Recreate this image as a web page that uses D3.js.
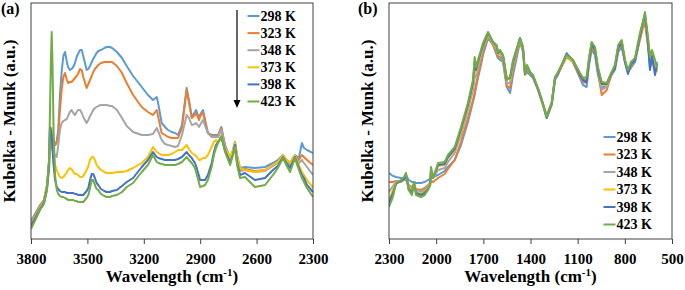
<!DOCTYPE html>
<html><head><meta charset="utf-8">
<script src="https://cdn.jsdelivr.net/npm/d3@7"></script>
<style>body{margin:0;background:#fff}svg{display:block}</style>
</head><body>
<svg id="c" width="685" height="290"></svg>
<script>
const seriesNames = ["298 K","323 K","348 K","373 K","398 K","423 K"];
const seriesColors = ["#5B9BD5","#ED7D31","#A5A5A5","#FFC000","#4472C4","#70AD47"];

// Panel (a) wavenumbers
const wnA = [3800,3752,3731,3715,3704,3699,3694,3690,3686,3680,3672,3663,3655,3646,3637,3628,3619,3609,3603,3593,3584,3575,3566,3557,3550,3539,3530,3522,3504,3495,3486,3477,3469,3460,3451,3442,3428,3410,3397,3380,3369,3343,3316,3291,3257,3211,3178,3151,3131,3122,3105,3087,3071,3052,3034,3018,2997,2972,2960,2945,2928,2922,2906,2901,2885,2874,2859,2839,2827,2816,2805,2788,2768,2741,2726,2715,2704,2688,2662,2609,2555,2513,2487,2460,2439,2422,2396,2375,2359,2348,2332,2300];
const a298 = [9,17,19.5,27,39.5,56,53.5,51.5,50.5,48.5,47,49,54.5,72,83.5,91.5,93.5,88.5,86,84.5,85,86,88,91,92.5,94.5,94.5,91.5,84.5,85,86.5,88.5,90,91.5,93,94,94.5,95.5,96,96,95.5,93.5,90.5,86.5,81.5,76,72,69.5,71,67,58,56,54.5,53.5,53,52,57,75.5,69.5,61,63.5,64.5,60.5,62,64.5,59.5,53,52,52,52,52,56,47,40.5,44.5,48.5,42,35.5,36,35.5,36,38,39.5,42,39.5,38,42,40.5,48,45.5,44.5,43];
const a323 = [8.5,16.5,19.5,26.5,38.5,52,50.5,49.5,48.5,47.5,47,48,52,64.5,74.5,81,83,79.5,78,78.5,78.5,79.5,80.5,81.5,82.5,85,84.5,81,75.5,77.5,79.5,81.5,83.5,85,86,87,88,88.5,88.5,88.5,88.5,86.5,83,78,72,66,63.5,62,64.5,60.5,53,52,51,50.5,50.5,50.5,55.5,74.5,68.5,60.5,62,63,59.5,61,63.5,58.5,53,51.5,51.5,51.5,51.5,55.5,46.5,39.5,43.5,48,41,34.5,35,34,34.5,37,38.5,41.5,38.5,37,41,39.5,42,41,39.5,37];
const a348 = [8,16,19,26,37,49.5,48,46.5,44.5,43,42,41,47,54.5,58,59,59.5,60,61.5,63.5,64.5,63,62,63.5,64.5,64.5,63,61,58,59.5,61.5,63,64.5,65.5,66,66.5,67,67,67,66.5,66.5,64.5,60.5,56.5,53.5,52,52,52.5,55.5,53.5,49.5,47.5,47,46.5,46,46.5,52,62,60.5,57,57.5,58,56,57,59.5,56.5,53,51,51,51,51,54.5,46,38.5,43,47.5,40.5,34,34.5,33.5,34,36.5,38,41,38,36.5,40,38,39.5,38,36,32];
const a373 = [7,15.5,18.5,25.5,35.5,49.5,54.5,55.5,49.5,43.5,37,34.5,32.5,31,30.5,31,32,33.5,34.5,35.5,35,33.5,32.5,32.5,32,31,31,31.5,34.5,36.5,39.5,41,41,39.5,37,36,34.5,33.5,33,33,33,33.5,33.5,34,35.5,38,41,46,43.5,43,42,42,42,42.5,43.5,44.5,44.5,47,45,43,42,41.5,39.5,39.5,40.5,40.5,42,46,48.5,49.5,48,50.5,45.5,41,44.5,48,41,35.5,34.5,33.5,34.5,37,38.5,42,39.5,38,42,37,33.5,32,29.5,25.5];
const a398 = [6.5,15,18,25,35.5,56,54.5,52,45.5,37,29.5,26,25,24,23.5,23.5,23.5,23,23,23,23,23,22.5,22.5,22,22,22,22,24,25.5,29.5,32.5,32.5,30.5,28,27,25,24,23.5,23.5,24,24.5,26.5,28.5,30.5,36,39.5,43.5,41,40.5,40,39.5,39.5,39.5,39.5,40,41,43.5,42,40.5,38,36.5,31.5,29.5,29.5,29.5,32,38,43.5,47,48.5,51,44.5,38,42,47,38.5,32,33,29.5,30.5,34.5,36.5,41,37.5,35.5,41,35.5,32,30.5,27,23.5];
const a423 = [5,14.5,17.5,24.5,39.5,64.5,89.5,103.5,89.5,54.5,32,24.5,22.5,21.5,21,21,20.5,20,19.5,19.5,19.5,19.5,19,19,18.5,18.5,18.5,18.5,20.5,22,25.5,29.5,29.5,27,25,24.5,22.5,21.5,21,21,21.5,22,23.5,26,28,33.5,37,42,38.5,38,37.5,37,37,37,37,37.5,38.5,41,39.5,38,35.5,33.5,28,26,26.5,27,29.5,36,42,45.5,48,51.5,43.5,37,42,46,37,30.5,31,26,27,32,35.5,40.5,36.5,33.5,40.5,34.5,30.5,28.5,25.5,21];

// Panel (b) wavenumbers
const wnB = [2300,2275,2255,2224,2204,2192,2175,2154,2141,2128,2096,2073,2052,2038,2033,2020,1988,1946,1925,1882,1842,1798,1766,1755,1747,1734,1715,1702,1670,1639,1615,1607,1594,1575,1551,1530,1511,1467,1448,1435,1422,1403,1384,1352,1321,1297,1265,1244,1225,1170,1130,1085,1066,1043,1028,1011,990,971,947,915,884,863,842,820,799,780,761,735,704,685,672,653,640,627,608,595];
const b298 = [33,31.5,31,30.5,30.5,32,29.5,28.5,28.5,28,28,28.5,29.5,30,30.5,31,32,34,36,39.5,47,58.5,68.5,72,75.5,80.5,87,92,100.5,97,92,90.5,89.5,88.5,76,73,82,98.5,93.5,82,83.5,82,80.5,74.5,67,60.5,67,79.5,82,93,88.5,80.5,77,76,87,94.5,92,82,75.5,77,82,84.5,93.5,96,88.5,83.5,85.5,88.5,100.5,107,109.5,97,85.5,90.5,83.5,88.5];
const b323 = [28.5,28.5,29,28.5,29.5,29.5,27,26,26.5,25,24.5,25.5,27,28,29,28.5,30.5,32.5,35,39.5,48.5,60.5,69.5,73.5,77,82,88.5,93.5,101.5,97.5,93.5,91.5,91,89.5,76.5,75.5,84.5,99.5,94.5,82.5,85,83,81,74.5,67,62,68.5,80,82.5,91,88.5,81,78.5,78,88.5,95.5,93.5,83.5,72,74.5,82.5,85.5,94.5,97.5,88.5,83.5,86.5,89.5,99.5,105.5,108.5,97,88.5,92,87,86.5];
const b348 = [23.5,26.5,28.5,29,29.5,30.5,26,24.5,27.5,24.5,23.5,24.5,26.5,28.5,32,30.5,34.5,35.5,38.5,43,52,64.5,74.5,80.5,81.5,85.5,91,95.5,102,98,95,92.5,92.5,90.5,78,78,86.5,100,95.5,83,86,83.5,81.5,75,67.5,61.5,68,80.5,83,91.5,89,82,79.5,79.5,89.5,97,94.5,84.5,74.5,76,83,86,95.5,98.5,89,84,87.5,90,101.5,107.5,111.5,99.5,89.5,93.5,88,84.5];
const b373 = [19.5,24.5,28,29,30,31.5,25.5,23.5,28,23.5,22.5,23.5,25.5,27.5,34,30.5,36.5,37,40.5,44.5,54,66.5,77,85.5,83.5,87.5,92.5,96.5,102.5,98,96,92.5,93.5,91.5,80.5,79.5,88,100,95.5,82,86.5,83.5,81.5,75,67,60.5,67.5,80.5,83,91.5,89,82.5,80.5,80.5,90,98,95.5,85.5,77,77,83.5,86.5,96.5,99,89.5,83.5,88,90.5,102,108,112.5,100.5,90.5,93,88.5,83.5];
const b398 = [18,23,27.5,29,30,32,25,23,28,23,22,23,25,27,35,30.5,37,37.5,41,45,55,67,78,88.5,84.5,88.5,93.5,97,103,98.5,96.5,93,94,92,80,80.5,88.5,100.5,96,82.5,86.5,83.5,81.5,75,67.5,60.5,67.5,80.5,83,92.5,89.5,82,79.5,78.5,88.5,97.5,94.5,84.5,77.5,77.5,83,85.5,95.5,98,88.5,82.5,87.5,89.5,101.5,108.5,112,98.5,84.5,91.5,82,87.5];
const b423 = [16,21,28,29.5,31,33,24.5,22,28.5,22,21,22,24.5,27,36,30.5,38,38.5,42,46,56,68,79.5,91,86,89.5,94.5,98,103.5,98.5,97,93.5,94.5,92,79.5,81,89.5,100.5,96,83,87,83.5,82,75.5,68,61,68,81,83.5,92,89.5,83,80.5,81,90.5,98.5,96,86,78.5,78,83.5,87,97,99.5,89.5,84.5,88.5,90.5,103,108.5,113.5,101,91,94.5,89.5,86];

const ticksA = [3800,3500,3200,2900,2600,2300];
const ticksB = [2300,2000,1700,1400,1100,800,500];
const axisTitle = "Wavelength (cm";
const yTitle = "Kubelka - Munk (a.u.)";

const FONT = "'Liberation Serif','Times New Roman',serif";
const svg = d3.select("#c");

function panel(opts){
  const {x0,x1,y0,y1,domain,ticks,wn,data,label,labelX,yLabelX,legend} = opts;
  const x = d3.scaleLinear().domain(domain).range([x0,x1]);
  const y = d3.scaleLinear().domain([0,118]).range([y1,y0]);
  const g = svg.append("g");
  const clipId = "clip"+label.replace(/\W/g,"");
  svg.append("clipPath").attr("id",clipId).append("rect")
    .attr("x",x0).attr("y",y0).attr("width",x1-x0).attr("height",y1-y0);
  const line = d3.line().x(d=>x(d[0])).y(d=>y(d[1]));
  const lg = g.append("g").attr("clip-path",`url(#${clipId})`);
  data.forEach((vals,i)=>{
    lg.append("path").datum(wn.map((w,j)=>[w,vals[j]]))
      .attr("d",line).attr("fill","none")
      .attr("stroke",seriesColors[i]).attr("stroke-width",2)
      .attr("stroke-linejoin","round");
  });
  g.append("rect").attr("x",x0).attr("y",y0).attr("width",x1-x0).attr("height",y1-y0)
    .attr("fill","none").attr("stroke","#404040").attr("stroke-width",1);
  const ax = g.append("g").attr("transform",`translate(0,${y1})`)
    .call(d3.axisBottom(x).tickValues(ticks).tickSizeInner(5).tickSizeOuter(0).tickFormat(d3.format("d")));
  ax.select(".domain").remove();
  ax.selectAll(".tick line").attr("stroke","#404040");
  ax.selectAll(".tick text").attr("y",25).attr("dy",0)
    .attr("font-family",FONT).attr("font-weight","bold").attr("font-size",15).attr("fill","#000");
  const t = g.append("text").attr("x",(x0+x1)/2).attr("y",282).attr("text-anchor","middle")
    .attr("font-family",FONT).attr("font-weight","bold").attr("font-size",17).attr("fill","#000");
  t.append("tspan").text(axisTitle);
  t.append("tspan").text("-1").attr("font-size",11).attr("dy",-6);
  t.append("tspan").text(")").attr("dy",6);
  g.append("text").attr("transform",`translate(${yLabelX},${(y0+y1)/2}) rotate(-90)`)
    .attr("text-anchor","middle").attr("font-family",FONT).attr("font-weight","bold")
    .attr("font-size",17).attr("fill","#000").text(yTitle);
  g.append("text").attr("x",labelX).attr("y",14).attr("font-family",FONT).attr("font-weight","bold")
    .attr("font-size",16).attr("fill","#000").text(label);
  seriesNames.forEach((n,i)=>{
    const cy = legend.y + i*legend.dy;
    g.append("line").attr("x1",legend.x).attr("x2",legend.x+12).attr("y1",cy).attr("y2",cy)
      .attr("stroke",seriesColors[i]).attr("stroke-width",2);
    g.append("text").attr("x",legend.x+13).attr("y",cy+4.8).attr("font-family",FONT)
      .attr("font-weight","bold").attr("font-size",14).attr("fill","#000").text(n);
  });
  return g;
}

const gA = panel({x0:31,x1:313,y0:3,y1:239,domain:[3800,2300],ticks:ticksA,wn:wnA,
  data:[a298,a323,a348,a373,a398,a423],label:"(a)",labelX:1,yLabelX:15,
  legend:{x:247.5,y:16,dy:17.1}});
gA.append("line").attr("x1",237).attr("x2",237).attr("y1",10).attr("y2",101)
  .attr("stroke","#000").attr("stroke-width",1.2);
gA.append("path").attr("d","M233.5,100 L240.5,100 L237,108 Z").attr("fill","#000");

panel({x0:389,x1:672,y0:3,y1:239,domain:[2300,500],ticks:ticksB,wn:wnB,
  data:[b298,b323,b348,b373,b398,b423],label:"(b)",labelX:358,yLabelX:373,
  legend:{x:603.5,y:137,dy:17.5}});
</script>
</body></html>
